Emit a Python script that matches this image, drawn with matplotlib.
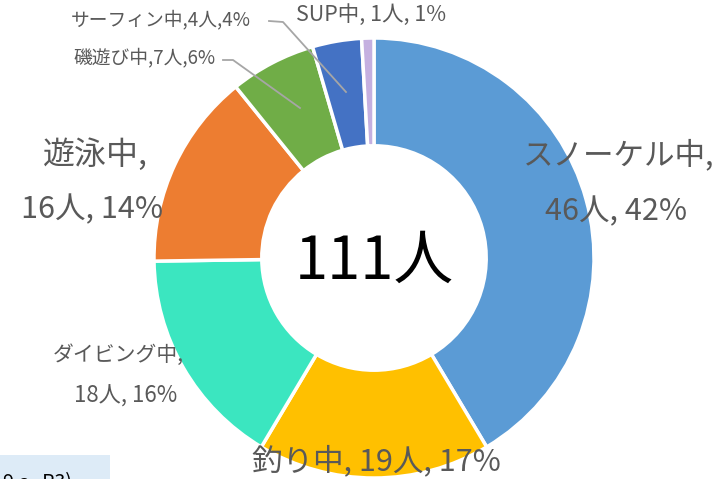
import matplotlib.pyplot as plt
from matplotlib.patches import Rectangle

plt.rcParams['font.family'] = ['Noto Sans CJK JP', 'DejaVu Sans']

# Data
labels = ['スノーケル中', '釣り中', 'ダイビング中', '遊泳中', '磯遊び中', 'サーフィン中', 'SUP中']
counts = [46, 19, 18, 16, 7, 4, 1]
percents = [42, 17, 16, 14, 6, 4, 1]
total_label = '111人'
colors = ['#5B9BD5', '#FFC000', '#3BE6C0', '#ED7D31', '#70AD47', '#4472C4', '#C5B0E0']

W, H = 724, 479
CX, CY, R = 374, 258, 220


def to_data(px, py):
    return (px - CX) / R, (CY - py) / R


fig = plt.figure(figsize=(W / 100, H / 100), dpi=100)
ax = fig.add_axes([0, 0, 1, 1])
ax.pie(counts, colors=colors, startangle=90, counterclock=False, radius=1,
       wedgeprops=dict(width=0.49, edgecolor='white', linewidth=2.5))
ax.set_xlim(-CX / R, (W - CX) / R)
ax.set_ylim(-(H - CY) / R, CY / R)
ax.set_aspect('equal')
ax.axis('off')

txt = '#595959'
line_c = '#A6A6A6'

# Large labels
x, y = to_data(619, 155)
ax.text(x, y, f'{labels[0]},', fontsize=22, color=txt, ha='center', va='center')
x, y = to_data(616, 212)
ax.text(x, y, f'{counts[0]}人, {percents[0]}%', fontsize=22, color=txt, ha='center', va='center')

x, y = to_data(376, 461)
ax.text(x, y, f'{labels[1]}, {counts[1]}人, {percents[1]}%', fontsize=22, color=txt,
        ha='center', va='center')

x, y = to_data(118, 355)
ax.text(x, y, f'{labels[2]},', fontsize=15, color=txt, ha='center', va='center')
x, y = to_data(126, 396)
ax.text(x, y, f'{counts[2]}人, {percents[2]}%', fontsize=16, color=txt, ha='center', va='center')

x, y = to_data(95, 155)
ax.text(x, y, f'{labels[3]},', fontsize=23, color=txt, ha='center', va='center')
x, y = to_data(92, 210)
ax.text(x, y, f'{counts[3]}人, {percents[3]}%', fontsize=22, color=txt, ha='center', va='center')

# Small labels with leader lines
x, y = to_data(145, 58)
ax.text(x, y, f'{labels[4]},{counts[4]}人,{percents[4]}%', fontsize=13.5, color=txt,
        ha='center', va='center')
p = [to_data(223, 60), to_data(233, 60), to_data(300, 108)]
ax.plot([q[0] for q in p], [q[1] for q in p], color=line_c, lw=1.3)

x, y = to_data(161, 20)
ax.text(x, y, f'{labels[5]},{counts[5]}人,{percents[5]}%', fontsize=13.5, color=txt,
        ha='center', va='center')
p = [to_data(269, 21), to_data(283, 22), to_data(346, 92)]
ax.plot([q[0] for q in p], [q[1] for q in p], color=line_c, lw=1.3)

x, y = to_data(371, 15)
ax.text(x, y, f'{labels[6]}, {counts[6]}人, {percents[6]}%', fontsize=15.5, color=txt,
        ha='center', va='center')

# Center total
ax.text(0, to_data(0, 262)[1], total_label, fontsize=43, color='black',
        ha='center', va='center')

# Cropped box at bottom-left (cut off in the original as well)
fig.patches.append(Rectangle((0, 0), 110 / W, 24 / H, transform=fig.transFigure,
                             facecolor='#DDEBF7', edgecolor='none', zorder=0))
fig.text(3 / W, (H - 472) / H, '9 ～ R3)', fontsize=14, color='black', va='top', ha='left')

fig.savefig('out.png', dpi=100)
